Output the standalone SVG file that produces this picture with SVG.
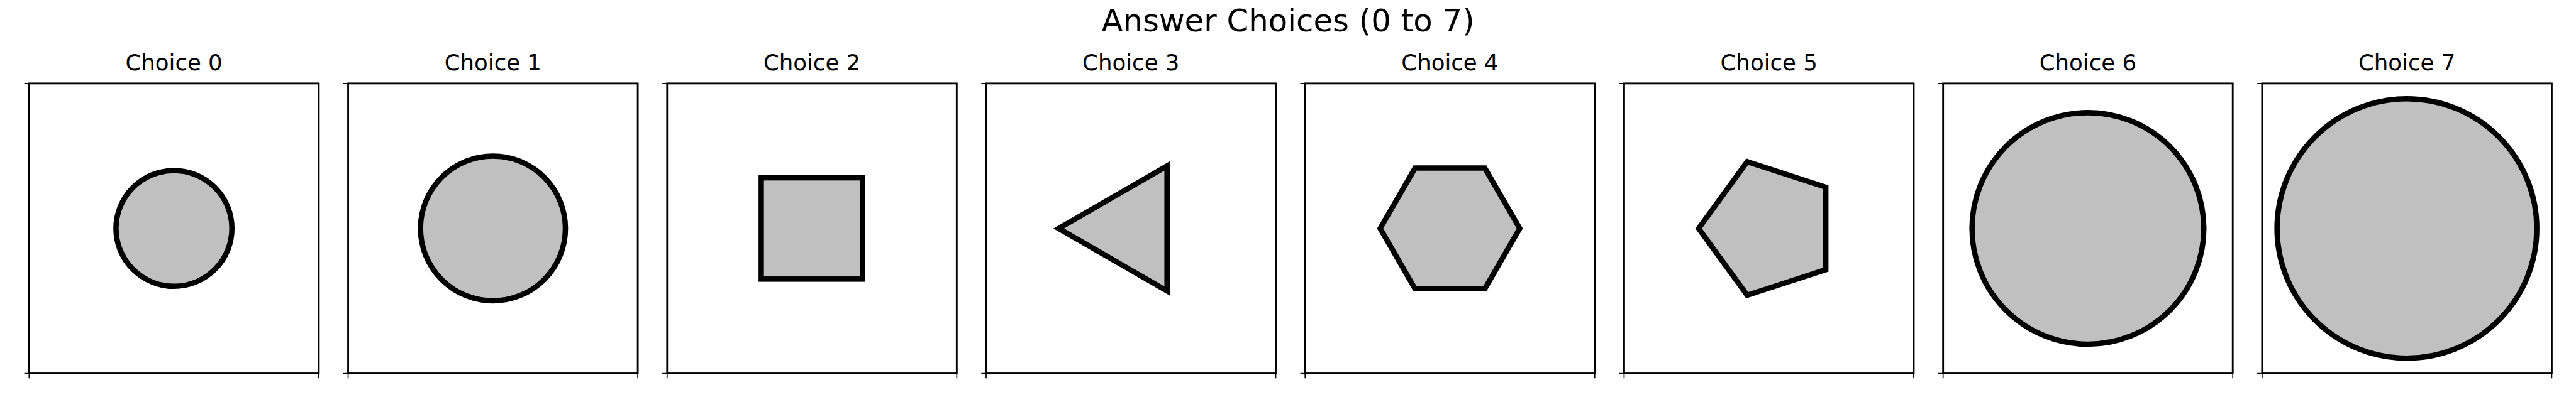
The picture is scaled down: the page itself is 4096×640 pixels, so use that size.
<svg xmlns="http://www.w3.org/2000/svg" width="4096" height="640" viewBox="0 0 4096 640">
<style>
.t{font-family:"DejaVu Sans","Liberation Sans",sans-serif;fill:#000;text-anchor:middle}
.main{font-size:58.33px}
.sub{font-size:41.67px}
.ax{fill:none;stroke:#000;stroke-width:3.33}
.tk{stroke:#000;stroke-width:2}
.sh{fill:#c0c0c0;stroke:#000;stroke-width:10;stroke-linejoin:miter;stroke-miterlimit:4}
</style>
<defs>
<g id="frame">
<rect class="ax" x="0" y="0" width="539.7" height="541"/>
<path class="tk" d="M-9 0H0M-9 541H0M0 541V550M539.7 541V550"/>
</g>
</defs>
<rect width="4096" height="640" fill="#fff"/>
<g transform="scale(0.853333)">
<text id="title" class="t main" x="2400" y="59">Answer Choices (0 to 7)</text>
<g id="choice0">
<text class="t sub" x="324.15" y="130.7">Choice 0</text>
<use href="#frame" x="54.3" y="155.7"/>
<circle class="sh" cx="324.15" cy="426.2" r="108"/>
</g>
<g id="choice1">
<text class="t sub" x="918.55" y="130.7">Choice 1</text>
<use href="#frame" x="648.7" y="155.7"/>
<circle class="sh" cx="918.55" cy="426.2" r="135"/>
</g>
<g id="choice2">
<text class="t sub" x="1512.95" y="130.7">Choice 2</text>
<use href="#frame" x="1243.1" y="155.7"/>
<rect class="sh" x="1418.45" y="331.7" width="189" height="189"/>
</g>
<g id="choice3">
<text class="t sub" x="2107.35" y="130.7">Choice 3</text>
<use href="#frame" x="1837.5" y="155.7"/>
<polygon class="sh" points="1972.75,426.2 2174.65,309.6 2174.65,542.8"/>
</g>
<g id="choice4">
<text class="t sub" x="2701.75" y="130.7">Choice 4</text>
<use href="#frame" x="2431.9" y="155.7"/>
<polygon class="sh" points="2831.75,426.2 2766.75,313.6 2636.75,313.6 2571.75,426.2 2636.75,538.8 2766.75,538.8"/>
</g>
<g id="choice5">
<text class="t sub" x="3296.15" y="130.7">Choice 5</text>
<use href="#frame" x="3026.3" y="155.7"/>
<polygon class="sh" points="3165.15,426.2 3255.67,301.61 3402.13,349.2 3402.13,503.2 3255.67,550.79"/>
</g>
<g id="choice6">
<text class="t sub" x="3890.55" y="130.7">Choice 6</text>
<use href="#frame" x="3620.7" y="155.7"/>
<circle class="sh" cx="3890.55" cy="426.2" r="216"/>
</g>
<g id="choice7">
<text class="t sub" x="4484.95" y="130.7">Choice 7</text>
<use href="#frame" x="4215.1" y="155.7"/>
<circle class="sh" cx="4484.95" cy="426.2" r="242"/>
</g>
</g>
</svg>
